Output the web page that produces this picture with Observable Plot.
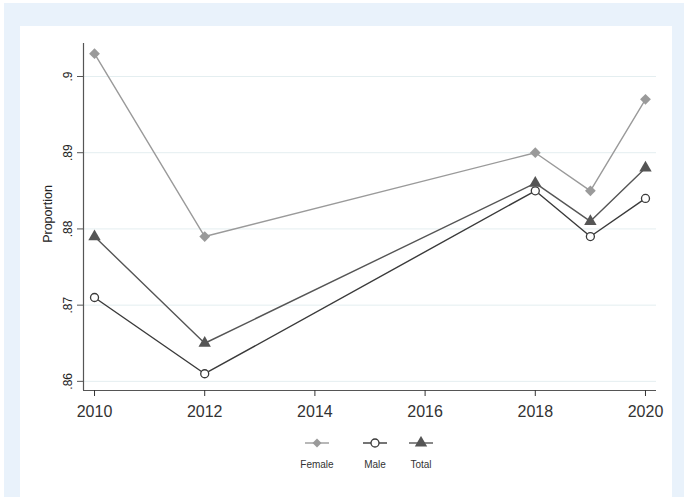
<!DOCTYPE html>
<html>
<head>
<meta charset="utf-8">
<script src="https://cdn.jsdelivr.net/npm/d3@7"></script>
<script src="https://cdn.jsdelivr.net/npm/@observablehq/plot@0.6"></script>
<style>
  html, body { margin: 0; padding: 0; background: #fff; }
  #page { position: relative; width: 684px; height: 497px; overflow: hidden; background: #fff;
          font-family: "Liberation Sans", Arial, Helvetica, sans-serif; }
  #frame { position: absolute; left: 4px; top: 3px; right: 0; bottom: 0; background: #e9f2fb; }
  #panel { position: absolute; left: 20px; top: 26px; width: 652px; height: 471px; background: #fff; }
  #chart { position: absolute; left: 0; top: 0; }
  #legend { position: absolute; left: 262px; top: 410px; display: flex; }
  .item { display: flex; flex-direction: column; align-items: center; }
  .item span { font-size: 10px; color: #333; margin-top: 9px; }
</style>
</head>
<body>
<div id="page">
  <div id="frame"></div>
  <div id="panel">
    <div id="chart"></div>
    <div id="legend"></div>
  </div>
</div>
<script>
// Survey years and the proportion for each group
const years = [2010, 2012, 2018, 2019, 2020];
const female = [0.903, 0.879, 0.890, 0.885, 0.897];
const male = [0.871, 0.861, 0.885, 0.879, 0.884];
const total = [0.879, 0.865, 0.886, 0.881, 0.888];

const seriesNames = ["Female", "Male", "Total"];
const seriesColors = ["#9a9a9a", "#3a3a3a", "#555555"];

// Axis ticks and extents
const xTicks = [2010, 2012, 2014, 2016, 2018, 2020];
const yTicks = [0.86, 0.87, 0.88, 0.89, 0.90];
const yTickLabels = [".86", ".87", ".88", ".89", ".9"];
const xDomain = [2009.8, 2020.2];
const yDomain = [0.8588, 0.90433];

const rows = [];
[female, male, total].forEach((vals, i) =>
  years.forEach((yr, j) => rows.push({series: seriesNames[i], year: yr, value: vals[j]}))
);
const bySeries = name => rows.filter(d => d.series === name);

const axisColor = "#555";
const gridColor = "#e4eef0";

const chart = Plot.plot({
  width: 652,
  height: 410,
  marginTop: 17,
  marginLeft: 63,
  marginRight: 16,
  marginBottom: 46,
  style: {fontFamily: '"Liberation Sans", Arial, Helvetica, sans-serif', color: "#222", background: "transparent"},
  x: {domain: xDomain, axis: null},
  y: {domain: yDomain, axis: null},
  color: {domain: seriesNames, range: seriesColors},
  marks: [
    Plot.ruleY(yTicks, {stroke: gridColor, strokeWidth: 1}),
    Plot.ruleX([xDomain[0]], {stroke: axisColor, strokeWidth: 1.2}),
    Plot.ruleY([yDomain[0]], {stroke: axisColor, strokeWidth: 1.2}),
    Plot.axisX({ticks: xTicks, tickSize: 6, tickPadding: 9, fontSize: 16, tickFormat: d => String(d),
      color: "#333", label: null}),
    Plot.axisY({ticks: yTicks, tickSize: 6, tickFormat: () => "", color: axisColor, label: null}),
    Plot.text(yTicks, {y: d => d, text: (d, i) => yTickLabels[i], frameAnchor: "left", dx: -15,
      rotate: -90, textAnchor: "middle", lineAnchor: "middle", fontSize: 12, fill: "#222"}),
    Plot.text(["Proportion"], {frameAnchor: "left", dx: -36, dy: -3, rotate: -90,
      textAnchor: "middle", lineAnchor: "middle", fontSize: 12.5, fill: "#222"}),
    Plot.line(rows, {x: "year", y: "value", z: "series", stroke: "series", strokeWidth: 1.4}),
    // diamonds: squares turned by 45°
    Plot.dot(bySeries("Female"), {x: "year", y: "value", symbol: "square", rotate: 45, r: 4.3, fill: seriesColors[0], stroke: "none"}),
    Plot.dot(bySeries("Male"), {x: "year", y: "value", symbol: "circle", r: 4, fill: "#fff", stroke: seriesColors[1], strokeWidth: 1.3}),
    Plot.dot(bySeries("Total"), {x: "year", y: "value", symbol: "triangle", r: 4.6, fill: seriesColors[2], stroke: "none"})
  ]
});
document.getElementById("chart").appendChild(chart);

// Legend: a short line with the series marker, label underneath
const legend = d3.select("#legend");
const itemWidths = [70, 46, 46];
const markers = {
  Female: g => g.append("path").attr("d", d3.symbol(d3.symbolSquare, 40)()).attr("transform", "rotate(45)").attr("fill", seriesColors[0]),
  Male: g => g.append("circle").attr("r", 4).attr("fill", "#fff").attr("stroke", seriesColors[1]).attr("stroke-width", 1.3),
  Total: g => g.append("path").attr("d", d3.symbol(d3.symbolTriangle, 66)()).attr("fill", seriesColors[2])
};
seriesNames.forEach((name, i) => {
  const item = legend.append("div").attr("class", "item").style("width", itemWidths[i] + "px");
  const svg = item.append("svg").attr("width", 26).attr("height", 14);
  svg.append("line").attr("x1", 1).attr("x2", 25).attr("y1", 7).attr("y2", 7)
    .attr("stroke", seriesColors[i]).attr("stroke-width", 1.4);
  markers[name](svg.append("g").attr("transform", "translate(13,7)"));
  item.append("span").text(name);
});
</script>
</body>
</html>
